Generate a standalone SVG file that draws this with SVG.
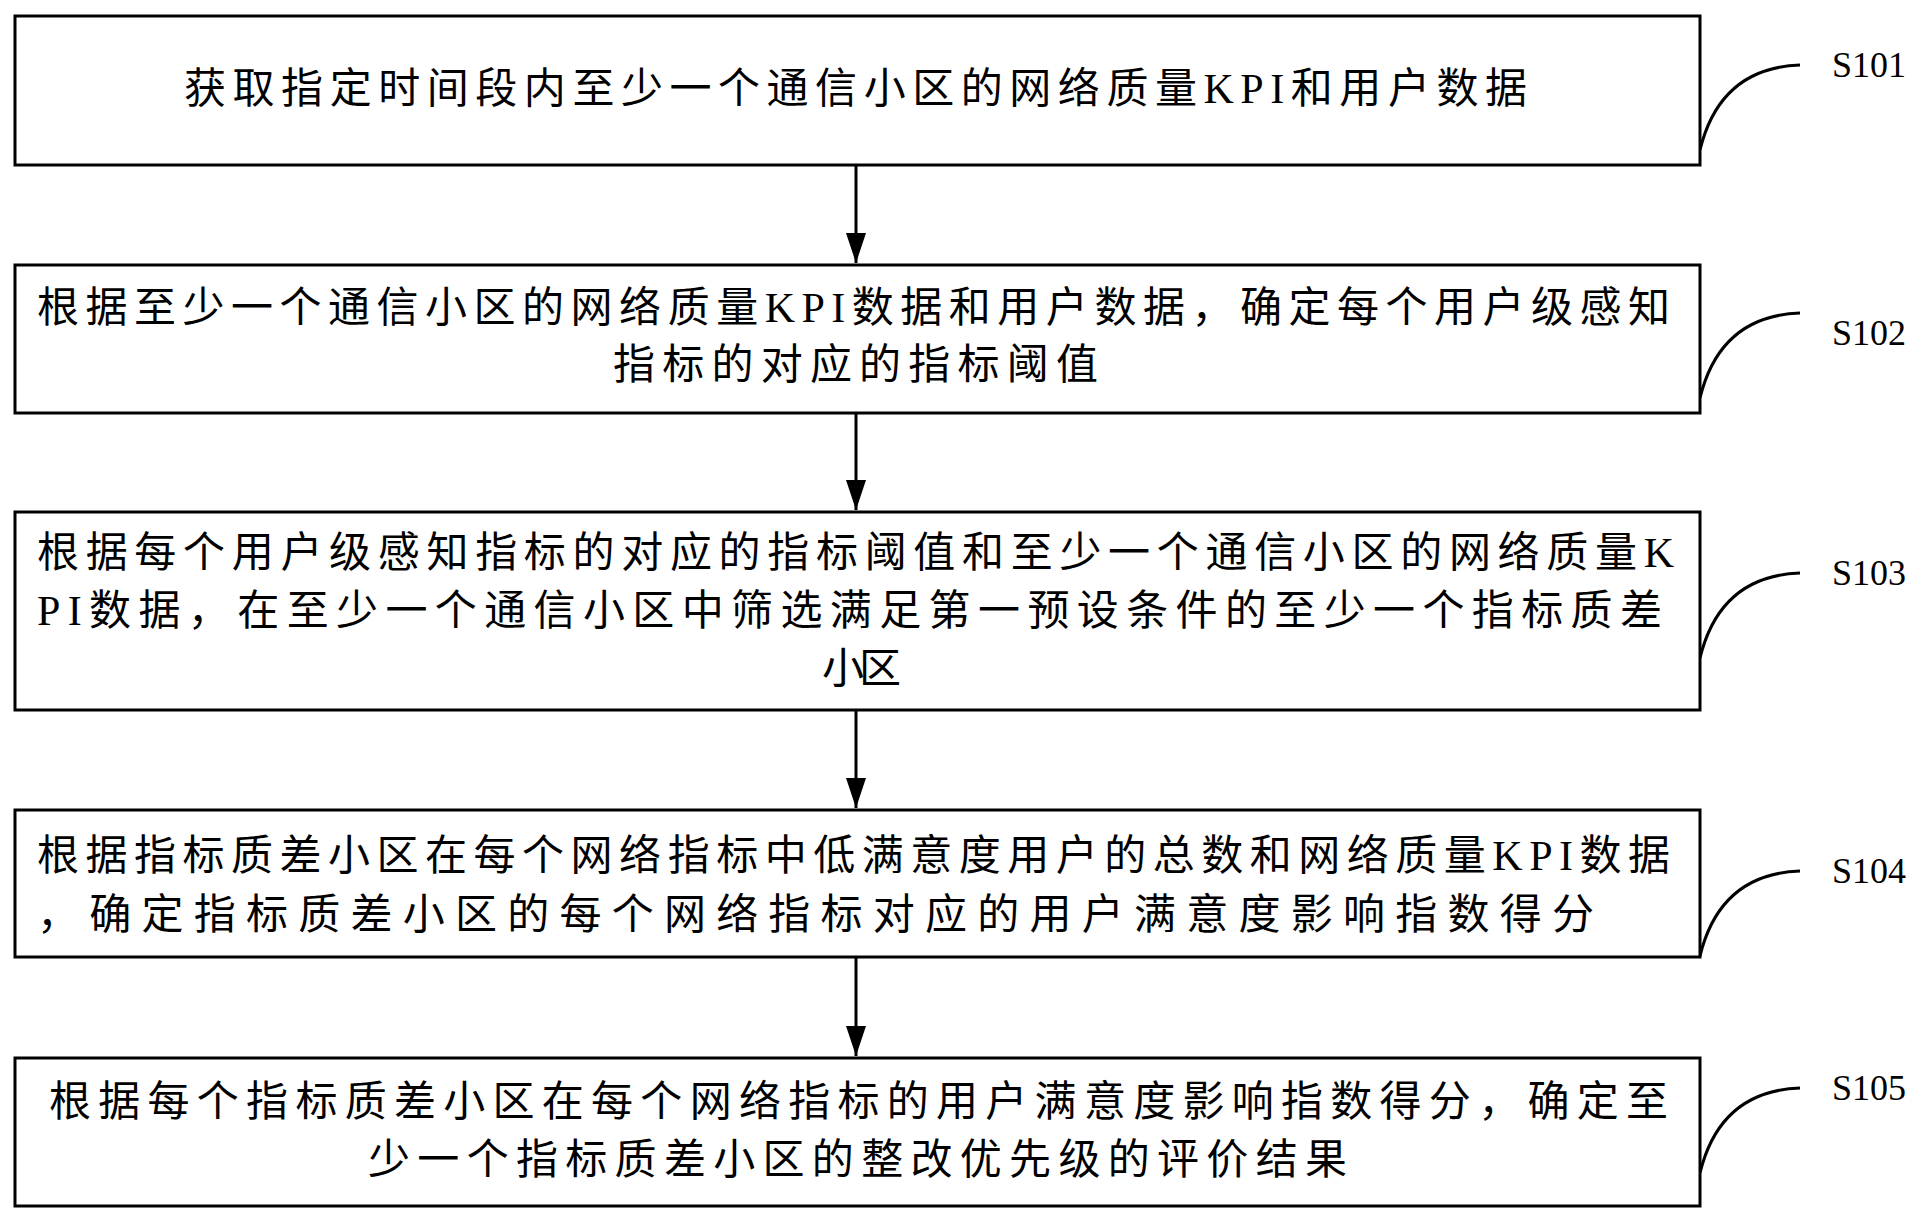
<svg xmlns="http://www.w3.org/2000/svg" width="1923" height="1224" viewBox="0 0 1923 1224">
<style>
.b{fill:#fff;stroke:#000;stroke-width:3}
.t{font-family:"Liberation Serif","Noto Sans CJK SC",serif;font-size:42px;fill:#000}
.l{font-family:"Liberation Serif",serif;font-size:36px;fill:#000}
.c{fill:none;stroke:#000;stroke-width:3}
</style>
<defs><marker id="a" markerWidth="10" markerHeight="10" refX="9" refY="5" orient="auto" markerUnits="userSpaceOnUse"><path d="M0,0 L10,5 L0,10 Z" fill="#000" transform="scale(1)"/></marker>
<marker id="ah" viewBox="0 0 20 30" markerWidth="20" markerHeight="30" refX="10" refY="30" orient="0" markerUnits="userSpaceOnUse"><path d="M0,0 L20,0 L10,30 Z" fill="#000"/></marker></defs>
<g id="connectors">
<line class="c" x1="856" y1="165" x2="856" y2="263" marker-end="url(#ah)"/>
<line class="c" x1="856" y1="413" x2="856" y2="510" marker-end="url(#ah)"/>
<line class="c" x1="856" y1="710" x2="856" y2="808" marker-end="url(#ah)"/>
<line class="c" x1="856" y1="957" x2="856" y2="1056" marker-end="url(#ah)"/>
<path class="c" d="M1700,150 Q1720,68 1800,65"/>
<path class="c" d="M1700,398 Q1720,316 1800,313"/>
<path class="c" d="M1700,658 Q1720,576 1800,573"/>
<path class="c" d="M1700,956 Q1720,874 1800,871"/>
<path class="c" d="M1700,1173 Q1720,1091 1800,1088"/>
</g>
<g id="S101"><rect class="b" x="15" y="16" width="1685" height="149"/>
<text class="t" x="184" y="103" textLength="1343" lengthAdjust="spacing">获取指定时间段内至少一个通信小区的网络质量KPI和用户数据</text>
<text class="l" x="1832" y="77">S101</text></g>
<g id="S102"><rect class="b" x="15" y="265" width="1685" height="148"/>
<text class="t" x="37" y="322" textLength="1633" lengthAdjust="spacing">根据至少一个通信小区的网络质量KPI数据和用户数据，确定每个用户级感知</text>
<text class="t" x="613" y="379" textLength="485" lengthAdjust="spacing">指标的对应的指标阈值</text>
<text class="l" x="1832" y="345">S102</text></g>
<g id="S103"><rect class="b" x="15" y="512" width="1685" height="198"/>
<text class="t" x="37" y="567" textLength="1637" lengthAdjust="spacing">根据每个用户级感知指标的对应的指标阈值和至少一个通信小区的网络质量K</text>
<text class="t" x="37" y="625" textLength="1625" lengthAdjust="spacing">PI数据，在至少一个通信小区中筛选满足第一预设条件的至少一个指标质差</text>
<text class="t" x="822" y="683" textLength="79" lengthAdjust="spacing">小区</text>
<text class="l" x="1832" y="585">S103</text></g>
<g id="S104"><rect class="b" x="15" y="810" width="1685" height="147"/>
<text class="t" x="37" y="870" textLength="1633" lengthAdjust="spacing">根据指标质差小区在每个网络指标中低满意度用户的总数和网络质量KPI数据</text>
<text class="t" x="37" y="929" textLength="1557" lengthAdjust="spacing">，确定指标质差小区的每个网络指标对应的用户满意度影响指数得分</text>
<text class="l" x="1832" y="883">S104</text></g>
<g id="S105"><rect class="b" x="15" y="1058" width="1685" height="148"/>
<text class="t" x="49" y="1116" textLength="1619" lengthAdjust="spacing">根据每个指标质差小区在每个网络指标的用户满意度影响指数得分，确定至</text>
<text class="t" x="368" y="1174" textLength="979" lengthAdjust="spacing">少一个指标质差小区的整改优先级的评价结果</text>
<text class="l" x="1832" y="1100">S105</text></g>
</svg>
